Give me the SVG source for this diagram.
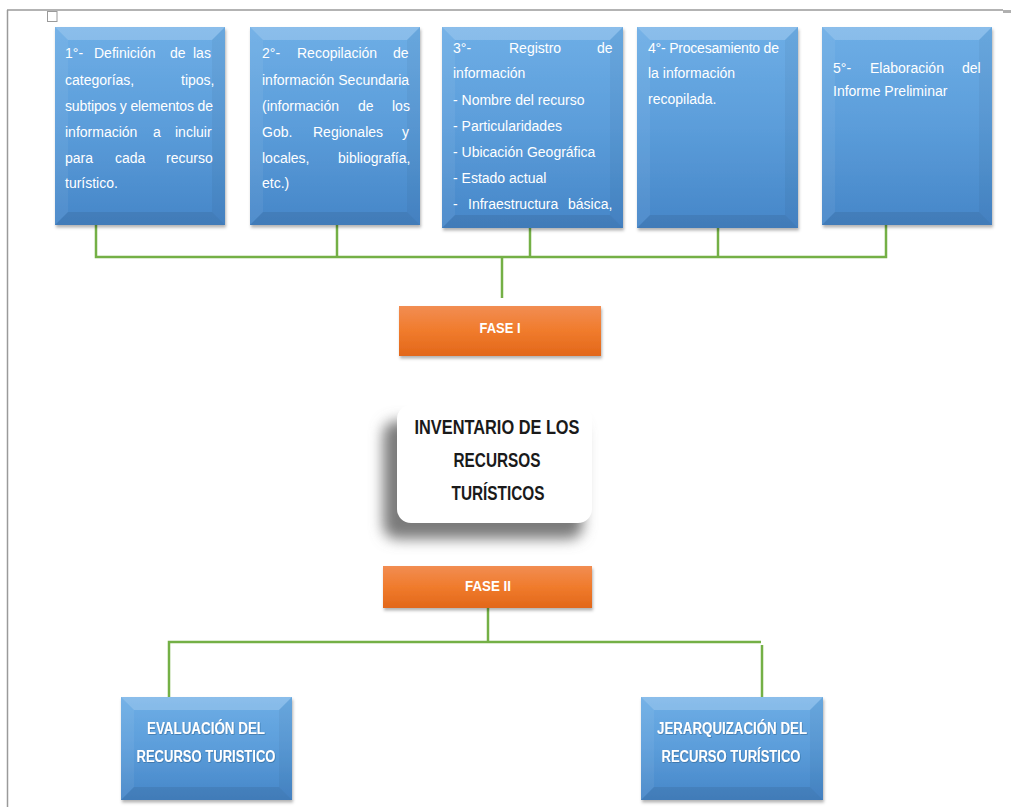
<svg xmlns="http://www.w3.org/2000/svg" width="1011" height="807" viewBox="0 0 1011 807">
<defs>
  <linearGradient id="blueG" x1="0" y1="0" x2="0" y2="1">
    <stop offset="0" stop-color="#6eaee6"/>
    <stop offset="0.5" stop-color="#5b9dda"/>
    <stop offset="1" stop-color="#4686c8"/>
  </linearGradient>
  <linearGradient id="orangeG" x1="0" y1="0" x2="0" y2="1">
    <stop offset="0" stop-color="#f28d52"/>
    <stop offset="0.5" stop-color="#f07b2c"/>
    <stop offset="1" stop-color="#e2671a"/>
  </linearGradient>
  <filter id="sh" x="-10%" y="-10%" width="130%" height="130%">
    <feDropShadow dx="1" dy="2.5" stdDeviation="1.8" flood-color="#000" flood-opacity="0.3"/>
  </filter>
  <filter id="tsh" x="-5%" y="-20%" width="110%" height="150%">
    <feDropShadow dx="0.6" dy="0.8" stdDeviation="0.5" flood-color="#1d3f66" flood-opacity="0.45"/>
  </filter>
  <filter id="blur" x="-30%" y="-30%" width="160%" height="160%">
    <feGaussianBlur stdDeviation="7"/>
  </filter>
</defs>
<style>
  .box { fill: url(#blueG); filter: url(#sh); }
  .bt { fill: #ffffff; fill-opacity: 0.2; }
  .bl { fill: #ffffff; fill-opacity: 0.06; }
  .br { fill: #000000; fill-opacity: 0.04; }
  .bb { fill: #000000; fill-opacity: 0.08; }
  .txt { font-family: "Liberation Sans", Arial, sans-serif; font-size: 14px; fill: #ffffff; }
  .ttl { font-family: "Liberation Sans", Arial, sans-serif; font-size: 16px; font-weight: bold; fill: #ffffff; text-anchor: middle; filter: url(#tsh); }
  .fase { fill: url(#orangeG); filter: url(#sh); }
  .ftxt { font-family: "Liberation Sans", Arial, sans-serif; font-size: 15px; font-weight: bold; fill: #ffffff; text-anchor: middle; }
  .inv { font-family: "Liberation Sans", Arial, sans-serif; font-size: 20px; font-weight: bold; fill: #1a1a1a; text-anchor: middle; }
  .conn { fill: none; stroke: #74b046; stroke-width: 2.5; }
  .frame { fill: none; stroke: #9a9a9a; stroke-width: 1.5; }
</style>
<rect width="1011" height="807" fill="#ffffff"/>

<g id="frame">
  <line class="frame" x1="7" y1="10" x2="1003" y2="10"/>
  <line class="frame" x1="7.5" y1="10" x2="7.5" y2="807"/>
  <rect x="47.5" y="11.5" width="9.5" height="10" fill="#ffffff" stroke="#9a9a9a" stroke-width="1"/>
  <rect x="1003" y="10" width="8" height="3" fill="#b0b0b0"/>
</g>

<g id="connectors">
  <path class="conn" d="M96,225 V257 H886 V225"/>
  <path class="conn" d="M337,225 V257"/>
  <path class="conn" d="M530,228 V257"/>
  <path class="conn" d="M718,228 V257"/>
  <path class="conn" d="M502,257 V298"/>
  <path class="conn" d="M488,608 V642"/>
  <path class="conn" d="M169,697 V642 H761"/>
  <path class="conn" d="M762,645 V697"/>
</g>

<g id="step1">
  <rect class="box" x="55" y="27" width="170" height="198"/>
  <path class="bt" d="M55,27 H225 L212,40 H68 Z"/>
  <path class="bl" d="M55,27 V225 L68,212 V40 Z"/>
  <path class="br" d="M225,27 V225 L212,212 V40 Z"/>
  <path class="bb" d="M55,225 H225 L212,212 H68 Z"/>
  <g class="txt">
    <text y="58"><tspan x="65">1°-</tspan><tspan x="94">Definición</tspan><tspan x="170">de</tspan><tspan x="193">las</tspan></text>
    <text y="85"><tspan x="65">categorías,</tspan><tspan x="181">tipos,</tspan></text>
    <text x="65" y="111" textLength="148" lengthAdjust="spacing">subtipos y elementos de</text>
    <text y="137"><tspan x="65">información</tspan><tspan x="153">a</tspan><tspan x="175">incluir</tspan></text>
    <text y="163"><tspan x="65">para</tspan><tspan x="115">cada</tspan><tspan x="166">recurso</tspan></text>
    <text x="65" y="188">turístico.</text>
  </g>
</g>

<g id="step2">
  <rect class="box" x="250" y="27" width="170" height="198"/>
  <path class="bt" d="M250,27 H420 L407,40 H263 Z"/>
  <path class="bl" d="M250,27 V225 L263,212 V40 Z"/>
  <path class="br" d="M420,27 V225 L407,212 V40 Z"/>
  <path class="bb" d="M250,225 H420 L407,212 H263 Z"/>
  <g class="txt">
    <text y="58"><tspan x="262">2°-</tspan><tspan x="297">Recopilación</tspan><tspan x="393">de</tspan></text>
    <text x="262" y="85">información Secundaria</text>
    <text y="111"><tspan x="262">(información</tspan><tspan x="358">de</tspan><tspan x="392">los</tspan></text>
    <text y="137"><tspan x="262">Gob.</tspan><tspan x="313">Regionales</tspan><tspan x="402">y</tspan></text>
    <text y="163"><tspan x="262">locales,</tspan><tspan x="338">bibliografía,</tspan></text>
    <text x="262" y="188">etc.)</text>
  </g>
</g>

<g id="step3">
  <rect class="box" x="442" y="27" width="181" height="201"/>
  <path class="bt" d="M442,27 H623 L610,40 H455 Z"/>
  <path class="bl" d="M442,27 V228 L455,215 V40 Z"/>
  <path class="br" d="M623,27 V228 L610,215 V40 Z"/>
  <path class="bb" d="M442,228 H623 L610,215 H455 Z"/>
  <g class="txt">
    <text y="53"><tspan x="453">3°-</tspan><tspan x="509">Registro</tspan><tspan x="597">de</tspan></text>
    <text x="453" y="78">información</text>
    <text x="453" y="105">- Nombre del recurso</text>
    <text x="453" y="131">- Particularidades</text>
    <text x="453" y="157">- Ubicación Geográfica</text>
    <text x="453" y="183">- Estado actual</text>
    <text y="209"><tspan x="453">-</tspan><tspan x="468">Infraestructura</tspan><tspan x="568">básica,</tspan></text>
  </g>
</g>

<g id="step4">
  <rect class="box" x="637" y="27" width="161" height="201"/>
  <path class="bt" d="M637,27 H798 L785,40 H650 Z"/>
  <path class="bl" d="M637,27 V228 L650,215 V40 Z"/>
  <path class="br" d="M798,27 V228 L785,215 V40 Z"/>
  <path class="bb" d="M637,228 H798 L785,215 H650 Z"/>
  <g class="txt">
    <text x="648" y="53" textLength="131" lengthAdjust="spacing">4°- Procesamiento de</text>
    <text x="648" y="78">la información</text>
    <text x="648" y="104">recopilada.</text>
  </g>
</g>

<g id="step5">
  <rect class="box" x="822" y="27" width="170" height="198"/>
  <path class="bt" d="M822,27 H992 L979,40 H835 Z"/>
  <path class="bl" d="M822,27 V225 L835,212 V40 Z"/>
  <path class="br" d="M992,27 V225 L979,212 V40 Z"/>
  <path class="bb" d="M822,225 H992 L979,212 H835 Z"/>
  <g class="txt">
    <text y="73"><tspan x="833">5°-</tspan><tspan x="870">Elaboración</tspan><tspan x="962">del</tspan></text>
    <text x="833" y="96">Informe Preliminar</text>
  </g>
</g>

<g id="fase1">
  <rect class="fase" x="399" y="306" width="202" height="50"/>
  <text class="ftxt" x="500" y="333" textLength="41" lengthAdjust="spacingAndGlyphs">FASE I</text>
</g>

<g id="inventario">
  <rect x="383" y="421" width="200" height="118" rx="14" fill="#7a7a7a" filter="url(#blur)"/>
  <rect x="397" y="405" width="195" height="118" rx="14" fill="#ffffff"/>
  <text class="inv" x="497" y="434" textLength="165" lengthAdjust="spacingAndGlyphs">INVENTARIO DE LOS</text>
  <text class="inv" x="497" y="467" textLength="87" lengthAdjust="spacingAndGlyphs">RECURSOS</text>
  <text class="inv" x="498" y="500" textLength="93" lengthAdjust="spacingAndGlyphs">TURÍSTICOS</text>
</g>

<g id="fase2">
  <rect class="fase" x="383" y="566" width="209" height="42"/>
  <text class="ftxt" x="488" y="591" textLength="46" lengthAdjust="spacingAndGlyphs">FASE II</text>
</g>

<g id="evaluacion">
  <rect class="box" x="121" y="697" width="171" height="103"/>
  <path class="bt" d="M121,697 H292 L279,710 H134 Z"/>
  <path class="bl" d="M121,697 V800 L134,787 V710 Z"/>
  <path class="br" d="M292,697 V800 L279,787 V710 Z"/>
  <path class="bb" d="M121,800 H292 L279,787 H134 Z"/>
  <text class="ttl" x="206" y="734" textLength="118" lengthAdjust="spacingAndGlyphs">EVALUACIÓN DEL</text>
  <text class="ttl" x="206" y="762" textLength="139" lengthAdjust="spacingAndGlyphs">RECURSO TURISTICO</text>
</g>

<g id="jerarquizacion">
  <rect class="box" x="641" y="697" width="182" height="103"/>
  <path class="bt" d="M641,697 H823 L810,710 H654 Z"/>
  <path class="bl" d="M641,697 V800 L654,787 V710 Z"/>
  <path class="br" d="M823,697 V800 L810,787 V710 Z"/>
  <path class="bb" d="M641,800 H823 L810,787 H654 Z"/>
  <text class="ttl" x="732" y="734" textLength="150" lengthAdjust="spacingAndGlyphs">JERARQUIZACIÓN DEL</text>
  <text class="ttl" x="731" y="762" textLength="139" lengthAdjust="spacingAndGlyphs">RECURSO TURÍSTICO</text>
</g>
</svg>
